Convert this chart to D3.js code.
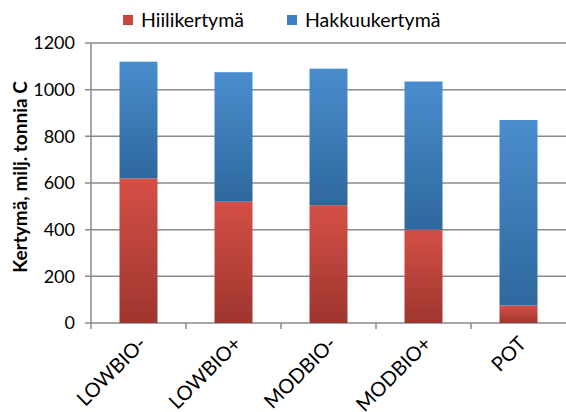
<!DOCTYPE html>
<html>
<head>
<meta charset="utf-8">
<script src="https://cdn.jsdelivr.net/npm/d3@7"></script>
<style>
  body { margin: 0; background: #fff; }
  svg text { font-family: Lato, "Open Sans", sans-serif; fill: #000; }
</style>
</head>
<body>
<script>
// scenarios and stacked values (milj. tonnia C)
var categories = ["LOWBIO-", "LOWBIO+", "MODBIO-", "MODBIO+", "POT"];
var hiili = [620, 520, 505, 400, 75];
var hakkuu = [500, 555, 585, 635, 795];
var seriesNames = ["Hiilikertymä", "Hakkuukertymä"];
var yTicks = [0, 200, 400, 600, 800, 1000, 1200];

var W = 566, H = 412;
var pLeft = 91, pRight = 566, pTop = 43, pBottom = 323;

var svg = d3.select("body").append("svg")
  .attr("width", W).attr("height", H);

var defs = svg.append("defs");
function grad(id, c1, c2) {
  var g = defs.append("linearGradient").attr("id", id)
    .attr("x1", 0).attr("y1", 0).attr("x2", 0).attr("y2", 1);
  g.append("stop").attr("offset", "0%").attr("stop-color", c1);
  g.append("stop").attr("offset", "100%").attr("stop-color", c2);
}
grad("gRed", "#d44f46", "#9e362f");
grad("gBlue", "#4a8dcd", "#2e689e");

var x = d3.scaleBand().domain(categories).range([pLeft, pRight]).paddingInner(0.6).paddingOuter(0.3);
var xb = d3.scaleBand().domain(categories).range([pLeft, pRight]);
var y = d3.scaleLinear().domain([0, 1200]).range([pBottom, pTop]);

// gridlines
svg.append("g").selectAll("line").data(yTicks).enter().append("line")
  .attr("x1", pLeft - 6).attr("x2", pRight)
  .attr("y1", function (d) { return y(d); }).attr("y2", function (d) { return y(d); })
  .attr("stroke", "#8a8a8a").attr("stroke-width", 1.5);

// y axis line
svg.append("line").attr("x1", pLeft).attr("x2", pLeft).attr("y1", pTop).attr("y2", pBottom)
  .attr("stroke", "#8a8a8a").attr("stroke-width", 1.5);

// x ticks at band boundaries
var bounds = categories.map(function (c) { return xb(c); });
svg.append("g").selectAll("line").data(bounds).enter().append("line")
  .attr("x1", function (d) { return d; }).attr("x2", function (d) { return d; })
  .attr("y1", pBottom).attr("y2", pBottom + 6)
  .attr("stroke", "#8a8a8a").attr("stroke-width", 1.5);

// stacked data
var rows = categories.map(function (c, i) { return { cat: c, hiili: hiili[i], hakkuu: hakkuu[i] }; });
var stack = d3.stack().keys(["hiili", "hakkuu"])(rows);
var fills = ["url(#gRed)", "url(#gBlue)"];

stack.forEach(function (layer, li) {
  svg.append("g").selectAll("rect").data(layer).enter().append("rect")
    .attr("x", function (d) { return x(d.data.cat); })
    .attr("width", x.bandwidth())
    .attr("y", function (d) { return y(d[1]); })
    .attr("height", function (d) { return y(d[0]) - y(d[1]); })
    .attr("fill", fills[li]);
});

// y labels
svg.append("g").selectAll("text").data(yTicks).enter().append("text")
  .attr("x", pLeft - 16).attr("y", function (d) { return y(d); })
  .attr("dy", "0.36em").attr("text-anchor", "end")
  .style("font-size", "18px")
  .text(function (d) { return d; });

// x labels
svg.append("g").selectAll("text").data(categories).enter().append("text")
  .attr("text-anchor", "end")
  .attr("transform", function (d) {
    return "translate(" + (xb(d) + xb.bandwidth() / 2 + 4) + "," + (pBottom + 17) + ") rotate(-45)";
  })
  .attr("dy", "0.35em")
  .style("font-size", "20px")
  .text(function (d) { return d; });

// y title
svg.append("text")
  .attr("transform", "translate(27," + 177 + ") rotate(-90)")
  .attr("text-anchor", "middle")
  .style("font-size", "19px").style("font-weight", "bold")
  .text("Kertymä, milj. tonnia C");

// legend
var legX = [123, 287];
var leg = svg.append("g").selectAll("g").data(seriesNames).enter().append("g")
  .attr("transform", function (d, i) { return "translate(" + legX[i] + ",15)"; });
leg.append("rect").attr("width", 10).attr("height", 10)
  .attr("fill", function (d, i) { return i ? "#3a7fc4" : "#c9453d"; });
leg.append("text").attr("x", 18).attr("y", 5.5).attr("dy", "0.35em")
  .style("font-size", "19.5px")
  .text(function (d) { return d; });
</script>
</body>
</html>
